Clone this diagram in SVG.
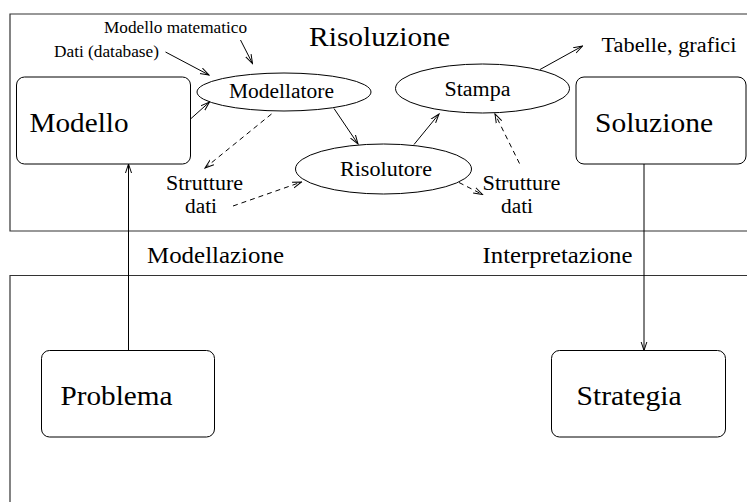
<svg xmlns="http://www.w3.org/2000/svg" width="747" height="502" viewBox="0 0 747 502">
<defs>
<style>
text{font-family:"Liberation Serif","Times New Roman",serif;fill:#000}
.big{font-size:26.5px}
.lab{font-size:23px}
.mid{font-size:20.5px}
.sm{font-size:16.5px}
.box{fill:none;stroke:#000;stroke-width:1}
.frame{fill:none;stroke:#333;stroke-width:1.2}
.ln{fill:none;stroke:#000;stroke-width:1;marker-end:url(#ah)}
.dash{stroke-dasharray:5,4}
</style>
<marker id="ah" markerWidth="10" markerHeight="8" refX="9" refY="4" orient="auto" markerUnits="userSpaceOnUse">
<path d="M0,1 L9,4 L0,7" fill="none" stroke="#000" stroke-width="1"/>
</marker>
</defs>
<rect width="747" height="502" fill="#fff"/>
<g id="frame-risoluzione">
<path class="frame" d="M748,14 H10 V231 H748"/>
<text class="big" x="309" y="45.5" textLength="141" lengthAdjust="spacingAndGlyphs">Risoluzione</text>
</g>
<g id="frame-problema">
<path class="frame" d="M748,275.5 H10 V503"/>
</g>
<g id="modello">
<rect class="box" x="16.5" y="77" width="174" height="87" rx="8"/>
<text class="big" x="29.5" y="132" textLength="99" lengthAdjust="spacingAndGlyphs">Modello</text>
</g>
<g id="soluzione">
<rect class="box" x="576" y="77" width="170" height="87" rx="8"/>
<text class="big" x="595" y="132" textLength="118" lengthAdjust="spacingAndGlyphs">Soluzione</text>
</g>
<g id="problema">
<rect class="box" x="41.5" y="350.5" width="173" height="86.5" rx="8"/>
<text class="big" x="60.5" y="405" textLength="112" lengthAdjust="spacingAndGlyphs">Problema</text>
</g>
<g id="strategia">
<rect class="box" x="551.5" y="350.5" width="174" height="86.5" rx="8"/>
<text class="big" x="576.5" y="405" textLength="105" lengthAdjust="spacingAndGlyphs">Strategia</text>
</g>
<g id="modellatore">
<ellipse class="box" cx="284" cy="92" rx="87" ry="19"/>
<text class="mid" x="229" y="97.5" textLength="105" lengthAdjust="spacingAndGlyphs">Modellatore</text>
</g>
<g id="risolutore">
<ellipse class="box" cx="383.5" cy="169" rx="88" ry="25"/>
<text class="mid" x="340" y="175.5" textLength="92" lengthAdjust="spacingAndGlyphs">Risolutore</text>
</g>
<g id="stampa">
<ellipse class="box" cx="482.5" cy="88.5" rx="87" ry="24.5"/>
<text class="mid" x="444.5" y="95.5" textLength="66" lengthAdjust="spacingAndGlyphs">Stampa</text>
</g>
<g id="labels">
<text class="sm" x="104" y="32.5" textLength="143" lengthAdjust="spacingAndGlyphs">Modello matematico</text>
<text class="sm" x="54" y="57" textLength="105" lengthAdjust="spacingAndGlyphs">Dati (database)</text>
<text class="mid" x="601.5" y="51.5" textLength="135" lengthAdjust="spacingAndGlyphs">Tabelle, grafici</text>
<text class="mid" x="166" y="189.5" textLength="77" lengthAdjust="spacingAndGlyphs">Strutture</text>
<text class="mid" x="185" y="213" textLength="32" lengthAdjust="spacingAndGlyphs">dati</text>
<text class="mid" x="482.5" y="189.5" textLength="78" lengthAdjust="spacingAndGlyphs">Strutture</text>
<text class="mid" x="501" y="213" textLength="32" lengthAdjust="spacingAndGlyphs">dati</text>
<text class="lab" x="147" y="263" textLength="137" lengthAdjust="spacingAndGlyphs">Modellazione</text>
<text class="lab" x="482.5" y="263" textLength="150" lengthAdjust="spacingAndGlyphs">Interpretazione</text>
</g>
<g id="connectors">
<line class="ln" x1="165.5" y1="52" x2="209" y2="75"/>
<line class="ln" x1="240.5" y1="40" x2="252.5" y2="63.5"/>
<line class="ln" x1="190.5" y1="119" x2="209.5" y2="102"/>
<line class="ln" x1="334" y1="108.5" x2="358" y2="144"/>
<line class="ln dash" x1="271.5" y1="114" x2="205" y2="168"/>
<line class="ln dash" x1="233" y1="206" x2="301.5" y2="182"/>
<line class="ln" x1="414" y1="144.5" x2="439" y2="114"/>
<line class="ln dash" x1="519.5" y1="163.5" x2="495" y2="114"/>
<line class="ln dash" x1="459" y1="182.5" x2="482.5" y2="194.5"/>
<line class="ln" x1="540" y1="69.5" x2="582.5" y2="46"/>
<line class="ln" x1="128.5" y1="350.5" x2="128.5" y2="164"/>
<line class="ln" x1="644" y1="164" x2="644" y2="350.5"/>
</g>
</svg>
